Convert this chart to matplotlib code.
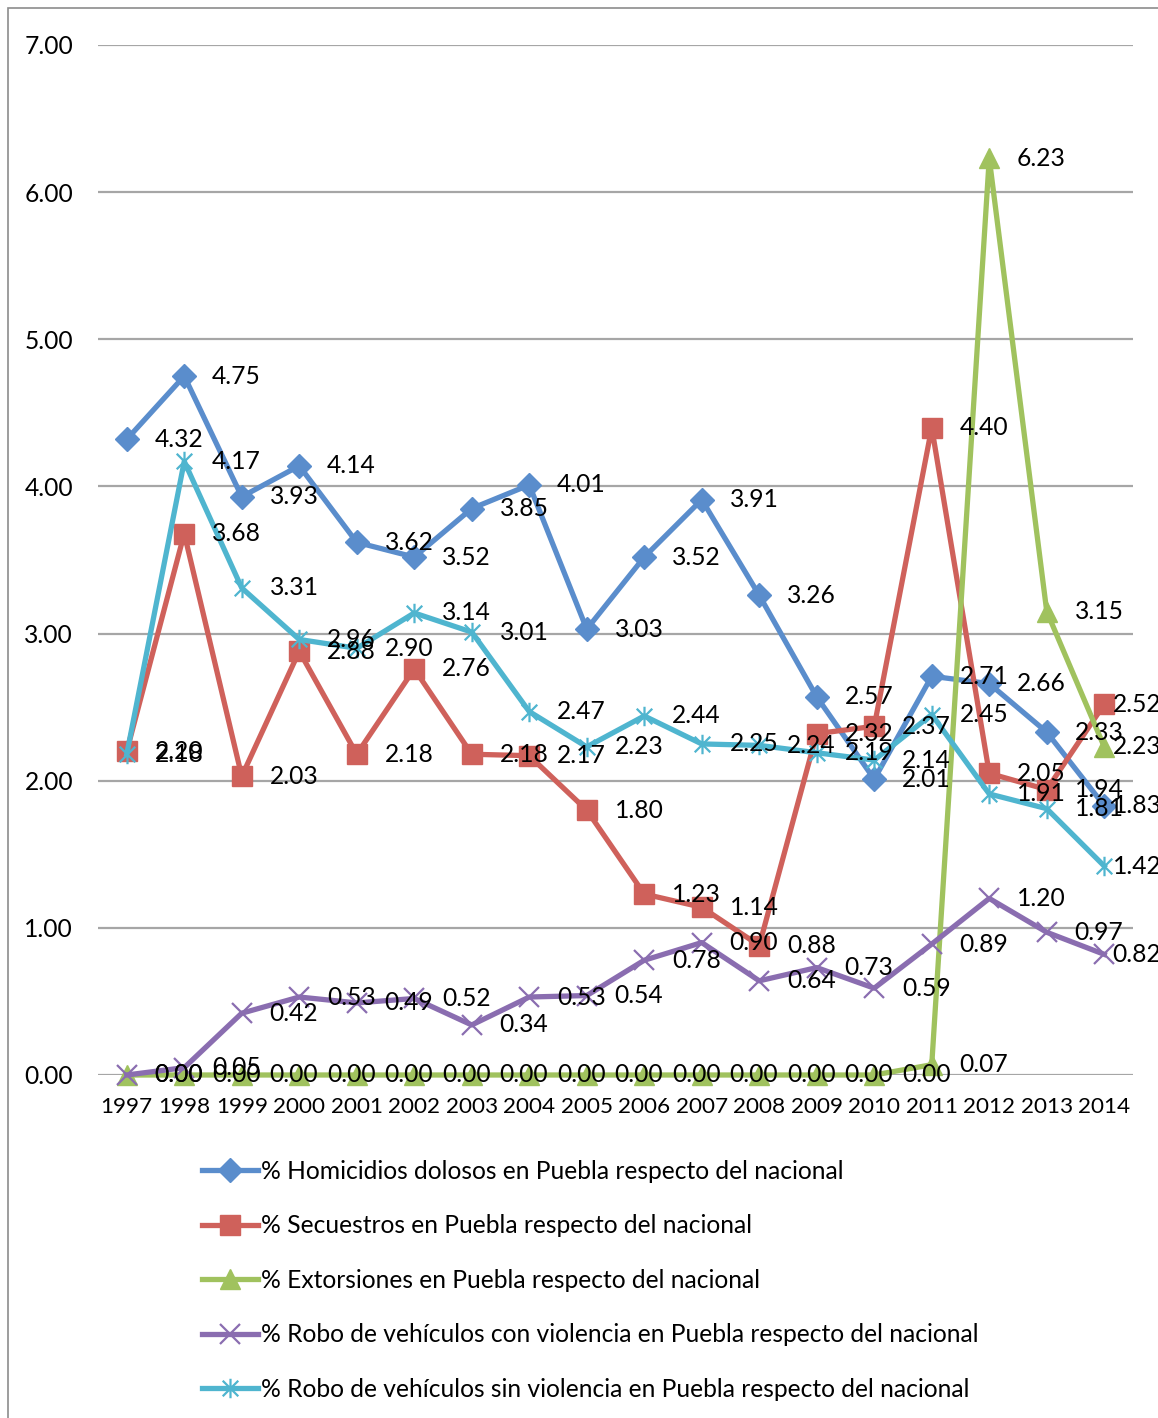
import matplotlib
matplotlib.use("Agg")
import matplotlib.pyplot as plt
from matplotlib.path import Path
from matplotlib.patches import Rectangle

plt.rcParams['font.family'] = ['Lato', 'DejaVu Sans']

years = ['1997', '1998', '1999', '2000', '2001', '2002', '2003', '2004', '2005',
         '2006', '2007', '2008', '2009', '2010', '2011', '2012', '2013', '2014']
homicidios = [4.32, 4.75, 3.93, 4.14, 3.62, 3.52, 3.85, 4.01, 3.03,
              3.52, 3.91, 3.26, 2.57, 2.01, 2.71, 2.66, 2.33, 1.83]
secuestros = [2.20, 3.68, 2.03, 2.88, 2.18, 2.76, 2.18, 2.17, 1.80,
              1.23, 1.14, 0.88, 2.32, 2.37, 4.40, 2.05, 1.94, 2.52]
extorsiones = [0.00, 0.00, 0.00, 0.00, 0.00, 0.00, 0.00, 0.00, 0.00,
               0.00, 0.00, 0.00, 0.00, 0.00, 0.07, 6.23, 3.15, 2.23]
robo_con = [0.00, 0.05, 0.42, 0.53, 0.49, 0.52, 0.34, 0.53, 0.54,
            0.78, 0.90, 0.64, 0.73, 0.59, 0.89, 1.20, 0.97, 0.82]
robo_sin = [2.18, 4.17, 3.31, 2.96, 2.90, 3.14, 3.01, 2.47, 2.23,
            2.44, 2.25, 2.24, 2.19, 2.14, 2.45, 1.91, 1.81, 1.42]
yticks = [0, 1, 2, 3, 4, 5, 6, 7]

labels = ['% Homicidios dolosos en Puebla respecto del nacional',
          '% Secuestros en Puebla respecto del nacional',
          '% Extorsiones en Puebla respecto del nacional',
          '% Robo de vehículos con violencia en Puebla respecto del nacional',
          '% Robo de vehículos sin violencia en Puebla respecto del nacional']

star = Path([(-1, -1), (1, 1), (-1, 1), (1, -1), (0, -1.25), (0, 1.25)],
            [Path.MOVETO, Path.LINETO, Path.MOVETO, Path.LINETO, Path.MOVETO, Path.LINETO])

series = [
    (homicidios, '#5A8DCC', 'D', 12, 1.0),
    (secuestros, '#CF615B', 's', 15, 1.0),
    (extorsiones, '#A0C25E', '^', 15, 1.0),
    (robo_con, '#8A6DB0', 'x', 15, 1.6),
    (robo_sin, '#4FB5CF', star, 14, 1.6),
]

FS = 17.7

fig = plt.figure(figsize=(11.58, 14.18), dpi=100)
ax = fig.add_axes([98/1158, 1 - 1075/1418, (1133-98)/1158, (1075-45)/1418])

x = list(range(len(years)))
handles = []
for (vals, col, mk, ms, mew), lab in zip(series, labels):
    if mk == 'x' or mk is star:
        h, = ax.plot(x, vals, color=col, lw=3.8, marker=mk, markersize=ms,
                     markeredgewidth=mew, markeredgecolor=col, label=lab, clip_on=False,
                     solid_joinstyle='round')
    else:
        h, = ax.plot(x, vals, color=col, lw=3.8, marker=mk, markersize=ms,
                     markerfacecolor=col, markeredgecolor=col, label=lab, clip_on=False,
                     solid_joinstyle='round')
    handles.append(h)

for vals, col, mk, ms, mew in series:
    for i, v in enumerate(vals):
        off = 20 if i < len(vals) - 1 else 6
        ax.annotate(f'{v:.2f}', (i, v), xytext=(off, 0), textcoords='offset points',
                    ha='left', va='center', fontsize=FS, color='black',
                    annotation_clip=False, zorder=10)

ax.set_xlim(-0.5, len(years) - 0.5)
ax.set_ylim(0, 7)
ax.set_yticks(yticks)
ax.set_yticklabels([f'{t:.2f}' for t in yticks], fontsize=FS)
ax.set_xticks(x)
ax.set_xticklabels(years, fontsize=16.2)
ax.tick_params(length=0)
ax.tick_params(axis='x', pad=16)
ax.tick_params(axis='y', pad=18)
ax.grid(axis='y', color='#A6A6A6', lw=1.6)
ax.set_axisbelow(True)
for s in ax.spines.values():
    s.set_visible(False)

leg = fig.legend(handles=handles, loc='upper left', bbox_to_anchor=(192/1158, 1 - 1150/1418),
                 frameon=False, fontsize=FS, handlelength=2.3, handletextpad=0.1,
                 labelspacing=1.28, borderaxespad=0)

fig.patches.append(Rectangle((8/1158, -0.01), 1.1, 1 - 8/1418 + 0.01, transform=fig.transFigure,
                             fill=False, edgecolor='#8C8C8C', lw=1.2))

fig.savefig('out.png', dpi=100)
